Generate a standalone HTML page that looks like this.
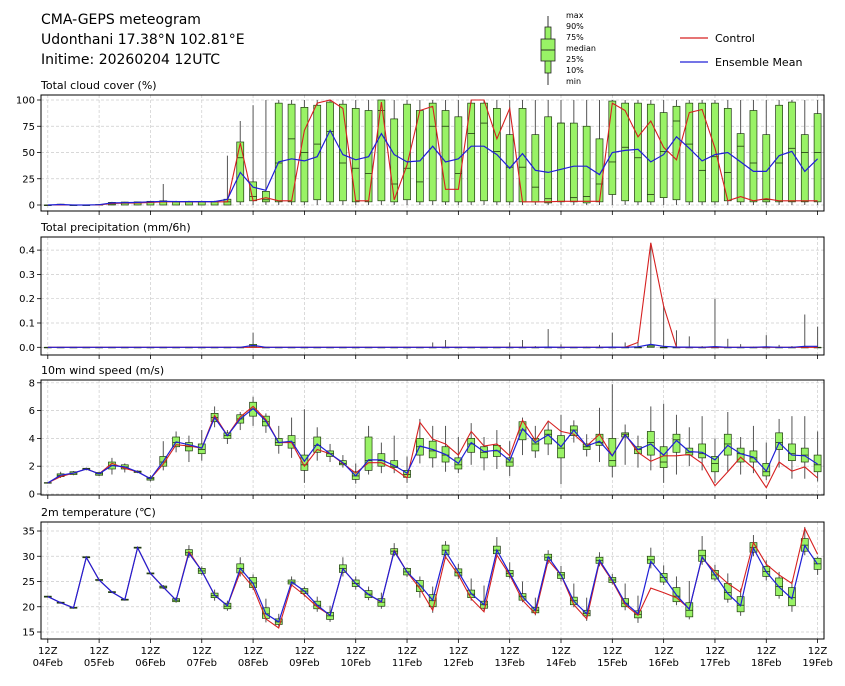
<!DOCTYPE html>
<html><head><meta charset="utf-8">
<style>
html,body{margin:0;padding:0;background:#fff;}
svg text{font-family:"DejaVu Sans","Liberation Sans",sans-serif;fill:#000;}
</style></head>
<body>
<svg id="chart" width="845" height="681" viewBox="0 0 845 681" xmlns="http://www.w3.org/2000/svg">
<text x="41" y="24" font-size="14">CMA-GEPS meteogram</text>
<text x="41" y="44" font-size="14">Udonthani 17.38°N 102.81°E</text>
<text x="41" y="64" font-size="14">Initime: 20260204 12UTC</text>
<g>
<line x1="548" y1="16" x2="548" y2="85" stroke="#333" stroke-width="1"/>
<rect x="545" y="27" width="6" height="46" fill="#99f266" stroke="#222" stroke-width="0.8"/>
<rect x="541" y="39" width="14" height="22" fill="#99f266" stroke="#222" stroke-width="0.8"/>
<line x1="541" y1="50" x2="555" y2="50" stroke="#222" stroke-width="0.9"/>
<text x="566" y="18" font-size="8">max</text>
<text x="566" y="29" font-size="8">90%</text>
<text x="566" y="40" font-size="8">75%</text>
<text x="566" y="51" font-size="8">median</text>
<text x="566" y="62" font-size="8">25%</text>
<text x="566" y="73" font-size="8">10%</text>
<text x="566" y="84" font-size="8">min</text>
</g>
<g>
<line x1="680" y1="38" x2="708" y2="38" stroke="#d62020" stroke-width="1.2"/>
<text x="715" y="42" font-size="11">Control</text>
</g>
<g>
<line x1="680" y1="62" x2="708" y2="62" stroke="#2020d6" stroke-width="1.2"/>
<text x="715" y="66" font-size="11">Ensemble Mean</text>
</g>
</svg>
<script>
// ---- Data (index = 6-hourly steps from 04Feb 12Z) ----
const dayLabels = ["04Feb","05Feb","06Feb","07Feb","08Feb","09Feb","10Feb","11Feb","12Feb","13Feb","14Feb","15Feb","16Feb","17Feb","18Feb","19Feb"];

const cloudTicks = [0,25,50,75,100];
const cloudMean = [0,0.5,0,0,0.3,2,2.2,2.5,3,3.5,3.2,3.2,3.2,3.2,5.4,31,17,14,41,44,42,46,71,48,43,46,68,48,41,42,56,41,44,56,56,48,35,49,33,31,34,37,37,29,50,52,53,41,48,65,54,42,48,50,41,32,32,47,51,32,44];
const cloudCtrl = [0,0,0,0,0,1.5,1.8,2,2.5,3,3,3,3,3,3,59,4,7,4,4,71,97,100,92,4,4,98,5,38,90,94,15,15,100,100,63,92,3,3,3,3.5,3.5,3.5,3.5,97,90,65,80,55,43,88,91,54,4,8,4,6,4,4,4,4];
const cloudMed = [0,0,0,0,0,1,2,2,3,3,3,3,3,3,3,45,8,5,40,63,50,58,70,40,35,30,90,20,35,22,75,75,30,68,78,51,36,36,17,6,78,7,8,20,41,55,45,10,51,80,58,33,46,31,56,40,5,40,54,50,50];
const cloudQ1 = [0,0,0,0,0,0,0,0,0,0,0,0,0,0,0,3,4,3,3,3,3,5,3,4,3,3,4,3,5,3,4,3,3,3,4,3,3,3,3,2,3,3,2,3,10,4,3,3,7,5,3,3,3,4,3,3,3,3,3,3,3];
const cloudQ3 = [0,0.8,0,0,0.5,2.5,2.8,3,3.5,4,3.5,3.5,3.5,3.5,5.5,60,22,13,97,96,93,95,98,96,92,90,100,82,96,90,97,90,84,97,97,92,67,92,67,84,78,78,75,63,99,97,97,96,88,94,97,97,97,92,68,90,67,95,98,67,87];
const cloudMin = [0,0,0,0,0,0,0,0,0,0,0,0,0,0,0,0,0,0,0,0,0,0,0,0,0,0,0,0,0,0,0,0,0,0,0,0,0,0,0,0,0,0,0,0,0,0,0,0,0,0,0,0,0,0,0,0,0,0,0,0,0];
const cloudMax = [0.5,1,0.5,0.5,1,3,3,3,3.5,20,4,4,4,4,47,80,95,100,100,100,100,100,100,100,100,100,100,100,100,100,100,100,100,100,100,100,100,100,100,100,100,100,100,100,100,100,100,100,100,100,100,100,100,100,100,100,100,100,100,100,100];

const precTicks = [0,0.1,0.2,0.3,0.4];
const precMean = [0,0,0,0,0,0,0,0,0,0,0,0,0,0,0,0,0.008,0,0,0,0,0,0,0,0,0,0,0,0,0,0,0,0,0,0,0,0,0,0,0.001,0,0,0,0,0.001,0,0.002,0.012,0.004,0.001,0.001,0,0.003,0,0,0,0.002,0,0,0.004,0.004];
const precCtrl = [0,0,0,0,0,0,0,0,0,0,0,0,0,0,0,0,0,0,0,0,0,0,0,0,0,0,0,0,0,0,0,0,0,0,0,0,0,0,0,0,0,0,0,0,0,0,0.02,0.43,0.17,0,0,0,0,0,0,0,0,0,0,0,0];
const precMed = [0,0,0,0,0,0,0,0,0,0,0,0,0,0,0,0,0.005,0,0,0,0,0,0,0,0,0,0,0,0,0,0,0,0,0,0,0,0,0,0,0,0,0,0,0,0,0,0,0.005,0,0,0,0,0,0,0,0,0,0,0,0,0];
const precQ1 = [0,0,0,0,0,0,0,0,0,0,0,0,0,0,0,0,0,0,0,0,0,0,0,0,0,0,0,0,0,0,0,0,0,0,0,0,0,0,0,0,0,0,0,0,0,0,0,0,0,0,0,0,0,0,0,0,0,0,0,0,0];
const precQ3 = [0,0,0,0,0,0,0,0,0,0,0,0,0,0,0,0,0.012,0,0,0,0,0,0,0,0,0,0,0,0,0,0,0,0,0,0,0,0,0,0,0,0,0,0,0,0,0,0,0.01,0,0,0,0,0,0,0,0,0,0,0,0,0];
const precMin = [0,0,0,0,0,0,0,0,0,0,0,0,0,0,0,0,0,0,0,0,0,0,0,0,0,0,0,0,0,0,0,0,0,0,0,0,0,0,0,0,0,0,0,0,0,0,0,0,0,0,0,0,0,0,0,0,0,0,0,0,0];
const precMax = [0,0,0,0,0,0,0,0,0,0,0,0,0,0,0,0,0.06,0,0,0,0,0,0,0,0,0,0,0,0,0,0.02,0.03,0,0,0,0,0.02,0.03,0.005,0.075,0.012,0,0.003,0.01,0.06,0.02,0.03,0.43,0.17,0.07,0.045,0.005,0.2,0.035,0.013,0.003,0.05,0.01,0.005,0.135,0.085];

const windTicks = [0,2,4,6,8];
const windMean = [0.8,1.35,1.5,1.8,1.45,2.05,1.95,1.6,1.1,2.35,3.75,3.55,3.3,5.5,4.2,5.4,6.15,5.25,3.7,3.8,2.35,3.6,2.9,2.25,1.3,2.45,2.45,2.05,1.5,3.45,3.2,2.85,2.2,3.7,3.05,3.15,2.4,4.7,3.7,4.25,3.4,4.6,3.45,3.8,2.75,4.25,3.2,3.6,2.8,3.85,3.05,3.0,2.45,3.5,2.9,2.65,1.65,3.7,2.8,2.75,2.15];
const windCtrl = [0.8,1.25,1.5,1.8,1.45,2.2,1.85,1.6,1.1,2.15,3.55,3.45,3.3,5.65,4.2,5.55,6.3,5.35,3.7,3.7,2.0,3.2,2.9,2.2,1.5,2.25,2.25,1.8,1.15,5.15,3.95,3.6,2.8,4.5,3.45,3.6,2.75,5.3,3.85,5.25,4.5,4.3,3.45,4.3,2.75,4.3,3.0,2.35,2.75,2.75,2.85,2.2,0.6,1.6,2.65,1.85,0.45,2.3,1.65,1.95,1.15];
const windMed = [0.8,1.35,1.5,1.8,1.45,2.05,1.95,1.6,1.1,2.3,3.7,3.4,3.2,5.5,4.2,5.4,6.1,5.2,3.7,3.7,2.1,3.5,2.9,2.2,1.3,2.4,2.4,2.0,1.4,3.4,3.1,2.8,2.1,3.6,3.0,3.1,2.3,4.6,3.6,4.3,3.3,4.6,3.4,3.7,2.4,4.3,3.2,3.7,2.3,3.9,3.0,2.9,2.2,3.6,2.9,2.6,1.6,3.7,2.9,2.8,2.1];
const windQ1 = [0.78,1.25,1.4,1.75,1.35,1.8,1.8,1.55,1.0,2.0,3.4,3.1,2.9,5.2,4.0,5.1,5.6,4.9,3.5,3.3,1.7,3.0,2.7,2.1,1.05,1.7,2.0,1.9,1.2,2.8,2.6,2.3,1.8,3.0,2.6,2.7,2.0,3.9,3.1,3.6,2.6,4.2,3.2,3.5,2.0,4.1,2.9,2.8,1.9,3.0,2.8,2.6,1.6,2.8,2.3,2.3,1.3,3.2,2.4,2.3,1.6];
const windQ3 = [0.82,1.45,1.6,1.85,1.55,2.3,2.1,1.65,1.2,2.7,4.1,3.7,3.6,5.8,4.4,5.7,6.6,5.6,4.0,4.2,2.8,4.1,3.1,2.4,1.6,4.1,2.9,2.4,1.7,4.0,3.8,3.4,2.6,4.0,3.4,3.5,2.6,5.2,4.0,4.6,4.2,4.9,3.6,4.3,4.0,4.4,3.4,4.5,3.4,4.3,3.3,3.6,2.7,4.3,3.3,3.1,2.2,4.4,3.6,3.3,2.8];
const windMin = [0.75,1.15,1.35,1.7,1.3,1.4,1.55,1.5,0.9,1.7,3.0,2.3,2.4,4.8,3.6,4.6,4.9,4.4,2.9,2.6,0.8,2.4,2.3,1.9,0.75,1.4,1.5,1.5,0.8,2.2,1.9,1.6,1.5,2.1,1.7,1.8,1.3,2.8,2.6,2.8,0.7,3.7,2.7,2.3,1.2,2.1,1.9,1.7,0.8,1.4,2.0,1.7,0.8,1.6,1.4,1.5,1.0,1.9,1.1,1.1,0.9];
const windMax = [0.85,1.6,1.65,1.9,1.6,2.6,2.2,1.7,1.35,3.8,4.5,4.2,4.6,6.3,4.6,5.9,7.0,5.8,4.9,5.5,6.1,4.8,3.6,2.8,2.2,4.9,3.7,4.2,2.7,5.4,4.9,4.9,4.1,5.1,4.1,4.6,3.8,5.5,4.9,5.2,5.7,5.3,4.3,6.2,7.9,5.0,4.2,6.3,6.5,5.7,4.8,5.6,4.0,5.9,4.1,4.9,3.7,5.4,5.6,5.6,4.5];

const tempTicks = [15,20,25,30,35];
const tempMean = [22.0,20.8,19.8,29.8,25.3,22.9,21.4,31.7,26.6,23.9,21.3,30.6,27.1,22.3,20.2,27.6,24.6,18.6,17.0,24.9,23.1,20.3,18.3,27.5,24.6,22.4,21.0,31.0,26.9,24.3,21.3,31.0,26.9,22.6,20.4,31.2,26.6,22.0,19.3,29.9,26.3,21.1,18.6,29.2,25.3,20.8,18.6,29.0,25.9,22.3,19.5,29.9,26.3,22.6,20.2,31.6,26.9,23.9,21.6,32.1,28.4];
const tempCtrl = [22.0,20.8,19.8,29.8,25.3,22.9,21.4,31.7,26.6,23.9,21.3,30.9,27.1,22.3,20.2,26.9,23.9,17.6,15.8,24.3,22.3,20.0,18.3,27.5,24.6,22.4,20.9,31.2,26.9,23.6,19.3,29.9,26.3,21.6,19.0,30.2,26.3,21.3,18.6,29.2,26.3,20.4,17.6,28.9,25.1,20.4,18.3,23.7,22.8,21.8,19.6,29.7,26.9,24.6,22.9,32.7,28.4,26.3,24.6,35.5,30.4];
const tempMed = [22.0,20.8,19.8,29.8,25.3,22.9,21.4,31.7,26.6,23.9,21.3,30.7,27.1,22.2,20.1,27.6,24.7,18.6,17.0,24.9,23.1,20.3,18.2,27.6,24.6,22.5,20.9,31.0,26.9,24.1,21.2,31.2,26.8,22.5,20.4,31.2,26.6,22.0,19.3,29.8,26.3,21.2,18.7,29.2,25.3,20.7,18.5,29.3,25.8,22.1,19.3,30.1,26.3,22.8,20.3,31.7,27.0,24.0,21.8,32.2,28.5];
const tempQ1 = [21.9,20.7,19.7,29.7,25.2,22.8,21.3,31.6,26.5,23.7,21.0,30.2,26.6,21.8,19.6,26.7,23.8,17.7,16.5,24.5,22.6,19.6,17.5,26.8,24.0,21.8,20.1,30.4,26.3,23.0,20.0,30.3,26.1,21.8,19.7,30.5,26.0,21.3,18.8,29.2,25.6,20.4,18.2,28.6,24.8,20.0,17.8,28.6,24.9,21.0,18.0,29.0,25.5,21.5,19.0,30.8,26.0,22.2,20.2,31.0,27.4];
const tempQ3 = [22.1,20.9,19.9,29.9,25.4,23.0,21.5,31.8,26.7,24.1,21.6,31.3,27.6,22.7,20.7,28.5,25.8,19.8,17.6,25.3,23.6,21.1,18.9,28.3,25.3,23.2,21.6,31.5,27.6,25.2,22.4,32.2,27.5,23.3,21.1,32.0,27.2,22.6,19.9,30.4,26.8,21.9,19.3,29.8,25.8,21.6,19.2,30.0,26.6,23.8,20.8,31.2,27.2,24.6,22.0,32.7,28.0,25.7,23.8,33.5,29.6];
const tempMin = [21.8,20.6,19.6,29.6,25.1,22.7,21.2,31.5,26.4,23.5,20.8,29.7,26.2,21.2,19.2,26.0,23.3,16.9,16.0,24.0,22.0,19.0,17.0,26.0,23.4,21.3,19.6,30.0,25.9,21.8,18.8,29.5,25.5,21.2,19.0,30.0,25.6,20.9,18.3,28.5,25.0,19.9,17.2,28.0,24.4,19.3,16.8,27.6,24.3,20.3,17.5,28.3,25.0,20.8,18.2,30.0,25.2,21.6,19.0,30.2,26.3];
const tempMax = [22.2,21.0,20.0,30.0,25.5,23.1,21.6,31.9,26.8,24.3,21.9,32.2,28.0,23.4,21.2,29.8,26.4,21.6,18.6,26.0,24.0,22.0,20.2,29.8,26.0,24.0,22.8,32.6,27.8,26.0,24.0,33.0,28.5,25.6,24.2,33.8,28.8,25.0,21.8,31.2,28.1,24.6,21.8,30.8,26.5,24.6,22.2,31.7,28.2,26.0,25.1,34.0,28.3,26.6,23.6,34.2,29.2,26.9,25.1,35.8,29.9];

// ---- Drawing ----
const svg = document.getElementById('chart');
const NS = 'http://www.w3.org/2000/svg';
const X0 = 47.8, DX = 12.83, LEFT = 41, RIGHT = 824;
function xs(i){ return X0 + i*DX; }
function mk(tag, attrs, parent){
  const e = document.createElementNS(NS, tag);
  for (const k in attrs) e.setAttribute(k, attrs[k]);
  (parent||svg).appendChild(e);
  return e;
}

const panels = [
  {name:'cloud', title:'Total cloud cover (%)', top:95, bottom:211, y0:205, v0:0, k:1.05, ticks:cloudTicks, fmt:v=>String(v),
   mean:cloudMean, ctrl:cloudCtrl, med:cloudMed, q1:cloudQ1, q3:cloudQ3, mn:cloudMin, mx:cloudMax},
  {name:'precip', title:'Total precipitation (mm/6h)', top:237, bottom:355, y0:347.3, v0:0, k:243, ticks:precTicks, fmt:v=>v.toFixed(1),
   mean:precMean, ctrl:precCtrl, med:precMed, q1:precQ1, q3:precQ3, mn:precMin, mx:precMax},
  {name:'wind', title:'10m wind speed (m/s)', top:380, bottom:495, y0:494, v0:0, k:13.9, ticks:windTicks, fmt:v=>String(v),
   mean:windMean, ctrl:windCtrl, med:windMed, q1:windQ1, q3:windQ3, mn:windMin, mx:windMax},
  {name:'temperature', title:'2m temperature (\u2103)', top:522, bottom:639, y0:632, v0:15, k:5.05, ticks:tempTicks, fmt:v=>String(v),
   mean:tempMean, ctrl:tempCtrl, med:tempMed, q1:tempQ1, q3:tempQ3, mn:tempMin, mx:tempMax}
];

panels.forEach((p, pi) => {
  const ys = v => p.y0 - (v - p.v0)*p.k;
  const g = mk('g', {});
  
  

  const t = mk('text', {x:41, y:p.top-6, 'font-size':11}, g);
  t.textContent = p.title;
  
  

  // grid
  for (let d = 0; d < dayLabels.length; d++) {
    const x = xs(d*4);
    mk('line', {x1:x, y1:p.top, x2:x, y2:p.bottom, stroke:'#ccc', 'stroke-width':0.7, 'stroke-dasharray':'3,2'}, g);
  }
  p.ticks.forEach(v => {
    const y = ys(v);
    mk('line', {x1:LEFT, y1:y, x2:RIGHT, y2:y, stroke:'#ccc', 'stroke-width':0.7, 'stroke-dasharray':'3,2'}, g);
    mk('line', {x1:LEFT-4, y1:y, x2:LEFT, y2:y, stroke:'#000', 'stroke-width':0.8}, g);
    const tl = mk('text', {x:LEFT-6, y:y+3.5, 'font-size':10, 'text-anchor':'end'}, g);
    tl.textContent = p.fmt(v);
    
    
  });

  // boxes
  for (let i = 0; i < p.mean.length; i++) {
    const x = xs(i);
    const bx = mk('g', {}, g);
    
    
    const isSpike = p.mx[i] - p.q3[i] > 0;
    mk('line', {x1:x, y1:ys(p.mn[i]), x2:x, y2:ys(p.mx[i]), stroke:'#555', 'stroke-width':1}, bx);
    const yTop = ys(p.q3[i]), yBot = ys(p.q1[i]);
    const h = Math.max(yBot - yTop, 0.6);
    mk('rect', {x:x-3.5, y:yTop, width:7, height:h, fill:'#99f266', stroke:'#1f3a10', 'stroke-width':0.7}, bx);
    mk('line', {x1:x-3.5, y1:ys(p.med[i]), x2:x+3.5, y2:ys(p.med[i]), stroke:'#1f3a10', 'stroke-width':0.8}, bx);
  }

  // lines
  const ptsC = p.ctrl.map((v,i) => xs(i).toFixed(1)+','+ys(v).toFixed(1)).join(' ');
  const lc = mk('polyline', {points:ptsC, fill:'none', stroke:'#d62020', 'stroke-width':1.1}, g);
  
  
  const ptsM = p.mean.map((v,i) => xs(i).toFixed(1)+','+ys(v).toFixed(1)).join(' ');
  const lm = mk('polyline', {points:ptsM, fill:'none', stroke:'#1f1fd6', 'stroke-width':1.2}, g);
  
  

  // frame
  mk('rect', {x:LEFT, y:p.top, width:RIGHT-LEFT, height:p.bottom-p.top, fill:'none', stroke:'#000', 'stroke-width':1}, g);

  // x ticks
  for (let d = 0; d < dayLabels.length; d++) {
    const x = xs(d*4);
    mk('line', {x1:x, y1:p.bottom, x2:x, y2:p.bottom+4, stroke:'#000', 'stroke-width':0.8}, g);
    if (pi === panels.length - 1) {
      const a = mk('text', {x:x, y:p.bottom+15, 'font-size':10, 'text-anchor':'middle'}, g);
      a.textContent = '12Z';
      
      
      const b = mk('text', {x:x, y:p.bottom+27, 'font-size':10, 'text-anchor':'middle'}, g);
      b.textContent = dayLabels[d];
      
      
    }
  }
});
</script>
</body></html>
